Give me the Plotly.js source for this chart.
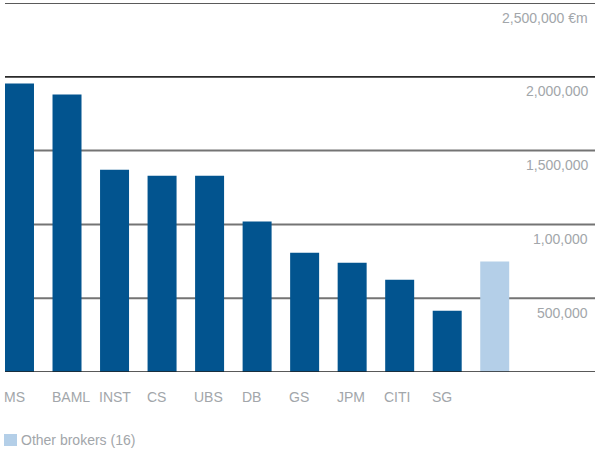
<!DOCTYPE html>
<html>
<head>
<meta charset="utf-8">
<script src="https://cdn.plot.ly/plotly-3.0.1.min.js"></script>
<style>html,body{margin:0;padding:0;background:#fff;}#chart{width:595px;height:450px;}</style>
</head>
<body>
<div id="chart"></div>
<script>
// Data
var brokers = ["MS", "BAML", "INST", "CS", "UBS", "DB", "GS", "JPM", "CITI", "SG", "Other brokers (16)"];
var tickText = ["MS", "BAML", "INST", "CS", "UBS", "DB", "GS", "JPM", "CITI", "SG", ""];
var volumes = [1955000, 1880000, 1370000, 1330000, 1330000, 1020000, 808000, 740000, 625000, 415000, 748000];
var gridValues = [0, 500000, 1000000, 1500000, 2000000, 2500000];
var gridLabels = ["", "500,000", "1,00,000", "1,500,000", "2,000,000", "2,500,000 €m"];
var legendLabel = "Other brokers (16)";

var dark = "#02548f", light = "#b4cfe8", textGray = "#a2a6aa";
var W = 595, H = 450, ML = 5, MR = 0, MT = 3, MB = 78;
var halfBar = 0.305;
var xRange = [-halfBar, -halfBar + 12.415];
function pxToPaperX(px) { return (px - ML) / (W - ML - MR); }
function pxToPaperY(py) { return (H - MB - py) / (H - MT - MB); }

var colors = brokers.map(function (b, i) { return i === brokers.length - 1 ? light : dark; });

var trace = {
  type: "bar",
  x: brokers.map(function (b, i) { return i; }),
  y: volumes,
  width: 2 * halfBar,
  marker: { color: colors, line: { width: 0 } },
  hoverinfo: "skip"
};

var gridStyles = [
  { color: "#222", width: 1.6 },
  { color: "#747474", width: 2 },
  { color: "#747474", width: 2 },
  { color: "#747474", width: 2 },
  { color: "#2a2a2a", width: 1.8 },
  { color: "#5a5a5a", width: 1.8 }
];

var shapes = gridValues.map(function (v, i) {
  return { type: "line", xref: "paper", yref: "y", x0: 0, x1: 1, y0: v, y1: v,
           line: gridStyles[i], layer: i === 0 ? "above" : "below" };
});
shapes.push({ type: "rect", xref: "paper", yref: "paper",
  x0: pxToPaperX(4), x1: pxToPaperX(17), y0: pxToPaperY(446), y1: pxToPaperY(434),
  fillcolor: light, line: { width: 0 } });

var font = { family: "Liberation Sans, Arial, sans-serif", size: 14, color: textGray };
var annotations = [];
tickText.forEach(function (t, i) {
  if (!t) return;
  annotations.push({ x: i - halfBar, y: 0, xref: "x", yref: "y", text: t, showarrow: false,
    xanchor: "left", yanchor: "middle", xshift: -3, yshift: -24.5, font: font });
});
gridValues.forEach(function (v, i) {
  if (!gridLabels[i]) return;
  annotations.push({ x: 1, y: v, xref: "paper", yref: "y", text: gridLabels[i], showarrow: false,
    xanchor: "right", yanchor: "middle", xshift: -5, yshift: -14.5, font: font });
});
annotations.push({ x: pxToPaperX(19), y: pxToPaperY(440), xref: "paper", yref: "paper",
  text: legendLabel, showarrow: false, xanchor: "left", yanchor: "middle", font: font });

var layout = {
  width: W, height: H,
  margin: { l: ML, r: MR, t: MT, b: MB, pad: 0 },
  paper_bgcolor: "#fff", plot_bgcolor: "#fff",
  showlegend: false,
  xaxis: { range: xRange, showgrid: false, zeroline: false, showticklabels: false, showline: false, fixedrange: true },
  yaxis: { range: [0, 2500000], showgrid: false, zeroline: false, showticklabels: false, showline: false, fixedrange: true },
  shapes: shapes,
  annotations: annotations
};

Plotly.newPlot("chart", [trace], layout, { displayModeBar: false, staticPlot: true });
</script>
</body>
</html>
